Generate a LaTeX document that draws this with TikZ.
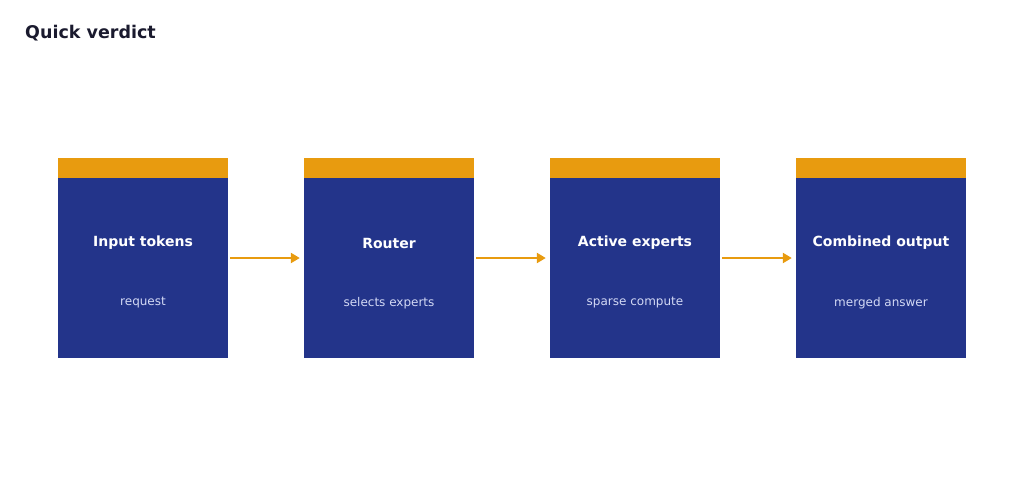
\documentclass[tikz,border=0pt]{standalone}
\usepackage{fontspec}
\setmainfont{DejaVu Sans}
\usetikzlibrary{arrows.meta,positioning}
\definecolor{BoxBlue}{HTML}{23348A}
\definecolor{BandOrange}{HTML}{E89B0F}
\definecolor{TitleInk}{HTML}{1A1A2E}
\definecolor{SubInk}{HTML}{D3D9F5}
\begin{document}
\begin{tikzpicture}[x=1pt,y=-1pt,
    stage/.style={rectangle,fill=BoxBlue,minimum width=170pt,minimum height=180pt,inner sep=0pt},
    band/.style={rectangle,fill=BandOrange,minimum width=170pt,minimum height=20pt,inner sep=0pt},
    head/.style={text=white,font=\fontsize{14}{17}\selectfont\bfseries},
    sub/.style={text=SubInk,font=\fontsize{12}{14}\selectfont},
    flow/.style={-{Triangle[length=9pt,width=10pt]},BandOrange,line width=2.8pt,shorten <=2pt,shorten >=4pt}]
  \useasboundingbox (0,0) rectangle (1024,483);
  % title
  \node[anchor=west,inner sep=0pt,text=TitleInk,font=\fontsize{17.5}{21}\selectfont\bfseries] (title) at (25,33) {Quick verdict};
  % stages
  \foreach \i/\x/\hd/\sb in {1/143/Input tokens/request,2/389/Router/selects experts,
      3/635/Active experts/sparse compute,4/881/Combined output/merged answer}{
    \node[stage] (s\i) at (\x,268) {};
    \node[band,anchor=south] (t\i) at (s\i.north) {};
    \coordinate (m\i) at (\x,258);
    \node[head] (h\i) at (\x,243) {\hd};
    \node[sub] (d\i) at (\x,303) {\sb};
  }
  % arrows
  \foreach \a/\b in {1/2,2/3,3/4}
    \draw[flow] (s\a.east |- m\a) -- (s\b.west |- m\b);
\end{tikzpicture}
\end{document}
